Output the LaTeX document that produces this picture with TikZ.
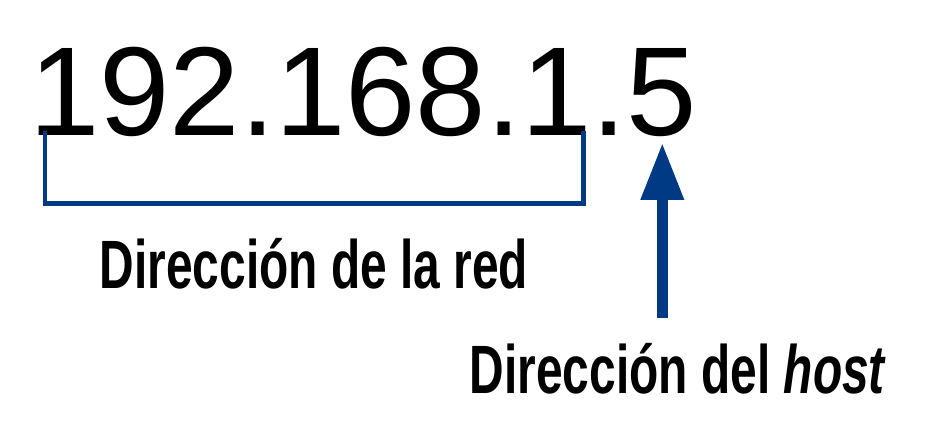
\documentclass[tikz,border=0pt]{standalone}
\usepackage{fontspec}
\setmainfont{Liberation Sans}
\newfontfamily\condfont[FakeStretch=0.70]{Liberation Sans}
\usetikzlibrary{arrows.meta}
\definecolor{netblue}{RGB}{0,57,132}
\tikzset{
  bigip/.style={anchor=base west, inner sep=0pt, outer sep=0pt, font=\fontsize{126.5}{126.5}\selectfont},
  lbl/.style={anchor=base west, inner sep=0pt, outer sep=0pt, font=\condfont\bfseries\fontsize{68.4}{68.4}\selectfont},
  bracketline/.style={draw=netblue, line width=4.6pt, line cap=butt, line join=miter},
  hostarrow/.style={draw=netblue, line width=10.4pt, -{Triangle[width=41pt,length=57pt]}}
}
\begin{document}
\begin{tikzpicture}[x=1pt,y=-1pt]
\useasboundingbox (0,0) rectangle (931,438);
\node[bigip] (ip) at (29,135.5) {192.168.1.5};
\coordinate (bl) at (45,130.7);
\coordinate (br) at (583.7,130.7);
\coordinate (bb) at (583.7,203.5);
\draw[bracketline] (bl) |- (bb) -- (br);
\coordinate (afoot) at (662.3,318);
\coordinate (atip) at (662.3,143);
\draw[hostarrow] (afoot) -- (atip);
\node[lbl] (net) at (99.8,288.3) {Dirección de la red};
\node[lbl] (host) at (469.8,393.3) {Dirección del \textit{host}};
\end{tikzpicture}
\end{document}
